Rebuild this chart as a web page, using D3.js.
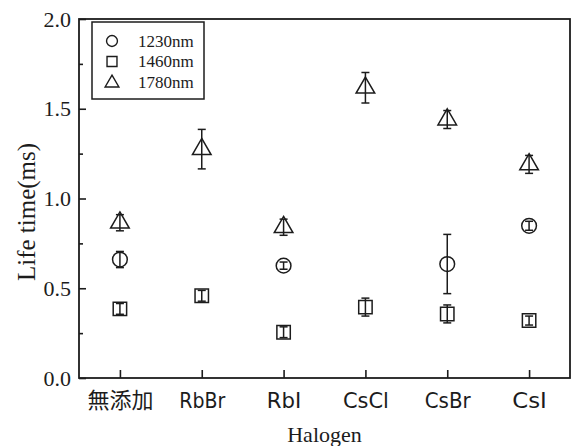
<!DOCTYPE html>
<html><head><meta charset="utf-8">
<script src="https://cdn.jsdelivr.net/npm/d3@7"></script>
<style>body{margin:0;background:#fff}svg{display:block}</style>
</head><body>
<script>
const categories = ["無添加","RbBr","RbI","CsCl","CsBr","CsI"];
const seriesNames = ["1230nm","1460nm","1780nm"];
const v1230 = [0.66, null, 0.626, null, 0.635, 0.848];
const e1230 = [0.045, null, 0.02, null, 0.165, 0.025];
const v1460 = [0.385, 0.458, 0.255, 0.395, 0.357, 0.32];
const e1460 = [0.03, 0.03, 0.03, 0.05, 0.05, 0.025];
const v1780 = [0.865, 1.275, 0.84, 1.617, 1.44, 1.19];
const e1780 = [0.045, 0.11, 0.045, 0.085, 0.05, 0.05];
const yTicks = [0, 0.5, 1.0, 1.5, 2.0];
const yMinor = [0.25, 0.75, 1.25, 1.75];

const W = 572, H = 446;
const m = {l:79, r:2, t:19, b:68};
const svg = d3.select("body").append("svg").attr("width",W).attr("height",H);
const x = d3.scalePoint().domain(categories).range([m.l, W-m.r]).padding(0.5);
const y = d3.scaleLinear().domain([0,2]).range([H-m.b, m.t]);
const ink = "#1c1c1c";
const serif = "'Liberation Serif','Times New Roman', serif";

// frame
svg.append("rect").attr("x",m.l).attr("y",m.t).attr("width",W-m.r-m.l).attr("height",H-m.b-m.t)
  .attr("fill","none").attr("stroke",ink).attr("stroke-width",1.8);

// y axis
const ya = svg.append("g").attr("transform",`translate(${m.l},0)`)
  .call(d3.axisLeft(y).tickValues(yTicks).tickFormat(d3.format(".1f")).tickSizeInner(-7).tickSizeOuter(0).tickPadding(8));
ya.select(".domain").remove();
ya.selectAll("line").attr("stroke",ink).attr("stroke-width",1.6);
ya.selectAll("text").attr("font-family",serif).attr("font-size",22).attr("fill",ink);
const ym = svg.append("g").attr("transform",`translate(${m.l},0)`)
  .call(d3.axisLeft(y).tickValues(yMinor).tickFormat("").tickSizeInner(-4).tickSizeOuter(0));
ym.select(".domain").remove();
ym.selectAll("line").attr("stroke",ink).attr("stroke-width",1.6);

// x axis
const xa = svg.append("g").attr("transform",`translate(0,${H-m.b})`)
  .call(d3.axisBottom(x).tickSizeInner(-8).tickSizeOuter(0).tickPadding(10));
xa.select(".domain").remove();
xa.selectAll("line").attr("stroke",ink).attr("stroke-width",1.6);
xa.selectAll("text")
  .attr("font-family","'DejaVu Sans','Noto Sans CJK JP', sans-serif").attr("font-size",22).attr("fill",ink)
  .attr("dy","0.9em")
  .attr("lengthAdjust","spacingAndGlyphs")
  .attr("textLength",function(){
    const s = this.textContent; let w = 0;
    for (const ch of s) w += ch.charCodeAt(0) > 255 ? 22 : 11.5;
    return w;
  });

// axis titles
svg.append("text").attr("x",(m.l+W-m.r)/2).attr("y",442).attr("text-anchor","middle")
  .attr("font-family",serif).attr("font-size",22).attr("fill",ink).text("Halogen");
svg.append("text").attr("transform",`translate(35,212) rotate(-90)`).attr("text-anchor","middle")
  .attr("font-family",serif).attr("font-size",25).attr("fill",ink).text("Life time(ms)");

// series
const series = [
  {name:seriesNames[0], vals:v1230, errs:e1230, sym:d3.symbolCircle, size:170},
  {name:seriesNames[1], vals:v1460, errs:e1460, sym:d3.symbolSquare, size:180},
  {name:seriesNames[2], vals:v1780, errs:e1780, sym:d3.symbolTriangle, size:150}
];
series.forEach(s => {
  const pts = categories.map((c,i)=>({c, v:s.vals[i], e:s.errs[i]})).filter(p=>p.v!=null);
  const g = svg.append("g").attr("stroke",ink).attr("fill","none").attr("stroke-width",1.5);
  pts.forEach(p => {
    const cx = x(p.c), cy = y(p.v), y1 = y(p.v+p.e), y2 = y(p.v-p.e);
    g.append("line").attr("x1",cx).attr("x2",cx).attr("y1",y1).attr("y2",y2);
    g.append("line").attr("x1",cx-4).attr("x2",cx+4).attr("y1",y1).attr("y2",y1);
    g.append("line").attr("x1",cx-4).attr("x2",cx+4).attr("y1",y2).attr("y2",y2);
    g.append("path").attr("d",d3.symbol(s.sym,s.size)()).attr("transform",`translate(${cx},${cy})`);
  });
});

// legend
const lg = svg.append("g");
lg.append("rect").attr("x",92).attr("y",22).attr("width",112).attr("height",77)
  .attr("fill","#fff").attr("stroke",ink).attr("stroke-width",1.5);
series.forEach((s,i) => {
  const yy = 41 + i*20.5;
  lg.append("path").attr("d",d3.symbol(s.sym,s.size*0.55)()).attr("transform",`translate(112,${yy + (i===2?1:0)})`)
    .attr("fill","none").attr("stroke",ink).attr("stroke-width",1.4);
  lg.append("text").attr("x",138).attr("y",yy).attr("dy","0.35em")
    .attr("font-family",serif).attr("font-size",17).attr("fill",ink).text(s.name);
});
</script>
</body></html>
